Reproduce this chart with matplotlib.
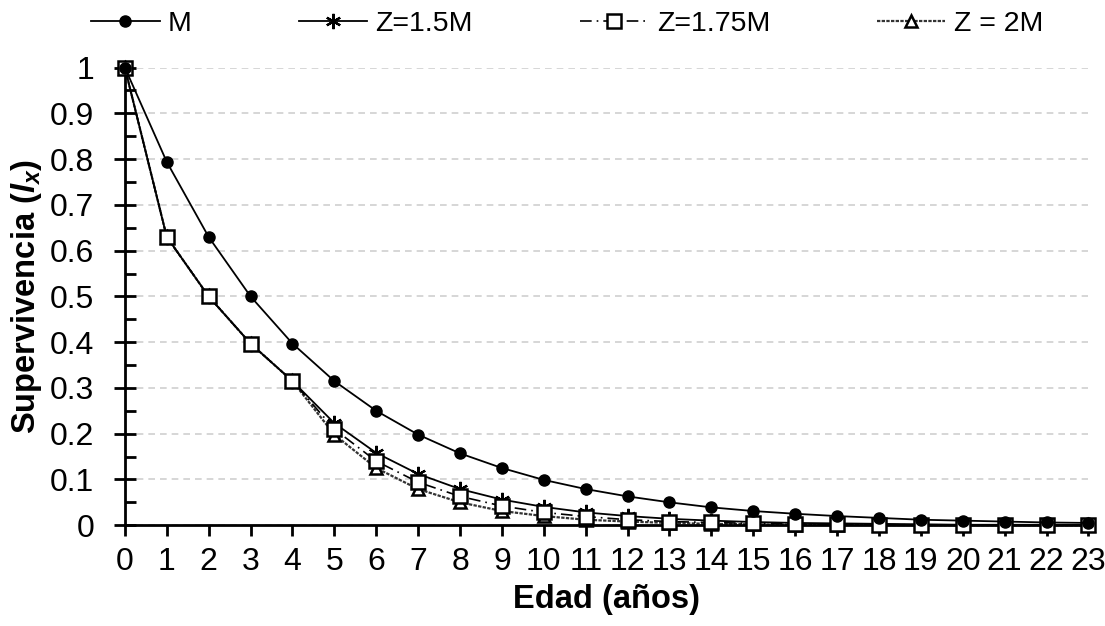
import matplotlib.pyplot as plt
from matplotlib.ticker import MultipleLocator, FuncFormatter

plt.rcParams['font.family'] = ['Liberation Sans', 'DejaVu Sans']
plt.rcParams['mathtext.fontset'] = 'custom'
plt.rcParams['mathtext.it'] = 'Liberation Sans:italic:bold'
plt.rcParams['mathtext.rm'] = 'Liberation Sans:bold'

# edad (años)
edad = list(range(24))

# supervivencia lx por escenario
m_vals = [1, 0.794, 0.630, 0.500, 0.397, 0.315, 0.250, 0.198, 0.157, 0.125, 0.099, 0.079,
          0.063, 0.050, 0.039, 0.031, 0.025, 0.020, 0.016, 0.012, 0.010, 0.008, 0.006, 0.005]
z15_vals = [1, 0.630, 0.500, 0.397, 0.315, 0.223, 0.158, 0.112, 0.079, 0.056, 0.040, 0.028,
            0.020, 0.014, 0.010, 0.007, 0.005, 0.004, 0.003, 0.002, 0.001, 0.001, 0.001, 0.0005]
z175_vals = [1, 0.630, 0.500, 0.397, 0.315, 0.210, 0.140, 0.094, 0.063, 0.042, 0.028, 0.019,
             0.012, 0.008, 0.006, 0.004, 0.003, 0.002, 0.001, 0.001, 0.0005, 0.0003, 0.0002, 0.0001]
z2_vals = [1, 0.630, 0.500, 0.397, 0.315, 0.198, 0.125, 0.079, 0.050, 0.031, 0.020, 0.012,
           0.008, 0.005, 0.003, 0.002, 0.001, 0.001, 0.0005, 0.0003, 0.0002, 0.0001, 0.0001, 0.0]

fig, ax = plt.subplots(figsize=(11.05, 6.26), dpi=100)
fig.subplots_adjust(left=0.113, right=0.985, top=0.892, bottom=0.161)

ax.plot(edad, m_vals, color='black', lw=1.3, marker='o', ms=8, label='M', zorder=5)
ax.plot(edad, z15_vals, color='black', lw=1.3, marker=(6, 2, 0), ms=11, mew=1.6,
        label='Z=1.5M', zorder=4)
ax.plot(edad, z175_vals, color='black', lw=1.2, ls=(0, (7, 3, 1, 3)), marker='s', ms=10,
        mfc='white', mew=1.8, label='Z=1.75M', zorder=4)
ax.plot(edad, z2_vals, color='#333333', lw=1.6, ls=(0, (1.5, 0.6)), marker='^', ms=8,
        mfc='white', mec='black', mew=1.8, label='Z = 2M', zorder=2)

ax.set_xlim(0, 23)
ax.set_ylim(0, 1.0)
ax.set_xticks(edad)
ax.yaxis.set_major_locator(MultipleLocator(0.1))
ax.yaxis.set_minor_locator(MultipleLocator(0.05))
ax.yaxis.set_major_formatter(FuncFormatter(lambda v, p: f'{v:g}'))
ax.grid(axis='y', color='#d0d0d0', ls=(0, (4, 3)), lw=1.2)
ax.set_axisbelow(True)

for s in ['top', 'right']:
    ax.spines[s].set_visible(False)
for s in ['left', 'bottom']:
    ax.spines[s].set_linewidth(2)
ax.tick_params(axis='x', which='major', direction='out', length=8, width=2,
               labelsize=23, pad=8)
ax.tick_params(axis='y', which='major', direction='inout', length=16, width=2,
               labelsize=23, pad=14)
ax.tick_params(axis='y', which='minor', direction='in', length=8, width=2)

ax.set_xlabel('Edad (años)', fontsize=23.5, fontweight='bold', labelpad=5)
ax.set_ylabel(r'Supervivencia ($l_x$)', fontsize=23.5, fontweight='bold', labelpad=4)

ax.legend(loc='upper center', bbox_to_anchor=(0.459, 1.18), ncol=4, frameon=False,
          fontsize=20.5, handlelength=2.4, columnspacing=3.75, handletextpad=0.3)

for line in ax.lines:
    line.set_clip_on(False)

plt.savefig('out.png', dpi=100)
